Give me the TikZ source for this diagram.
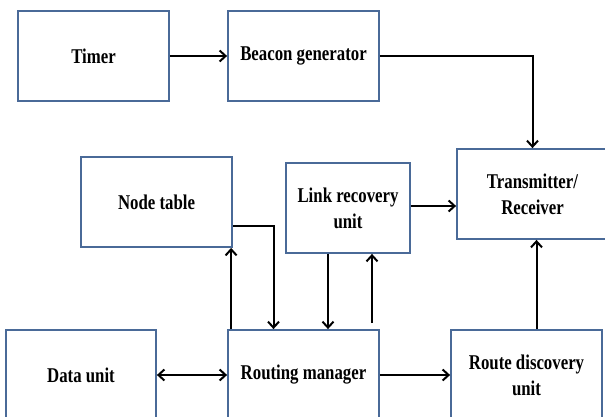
\documentclass[tikz,border=0pt]{standalone}
\usepackage{fontspec}
\setmainfont{Liberation Serif}[FakeStretch=0.8]
\usetikzlibrary{arrows.meta}
\definecolor{boxblue}{HTML}{4A6A98}
\tikzset{
	unit/.style={draw=boxblue,line width=1.8pt,fill=white,minimum width=151pt,minimum height=90pt,
		align=center,inner sep=2pt,font=\fontsize{21}{26}\selectfont\bfseries},
	flow/.style={line width=2pt,->},
	>={Straight Barb[length=6pt,width=11pt]},
}
\begin{document}
\begin{tikzpicture}[x=1pt,y=-1pt]
		\useasboundingbox (0,0) rectangle (605,416);
		\clip (0,0) rectangle (605,416);
		\node[unit] (timer) at (93.5,56) {Timer};
		\node[unit] (beacon) at (303.5,56) {Beacon generator};
		\node[unit] (ntable) at (156.5,202) {Node table};
		\node[unit,minimum width=124pt] (lru) at (348,208) {Link recovery\\unit};
		\node[unit] (trx) at (532.5,194) {Transmitter/\\Receiver};
		\node[unit,minimum width=150pt] (data) at (81,375) {Data unit};
		\node[unit] (rmgr) at (303.5,375) {Routing manager};
		\node[unit] (rdu) at (526.5,375) {Route discovery\\unit};
		\coordinate (lruin) at (372,323);
		\draw[flow] (timer.east) -- (beacon.west);
		\draw[flow] (beacon.east) -| (trx.north);
		\draw[flow] ([yshift=2pt]lru.east) -- ([yshift=2pt]lru.east -| trx.west);
		\draw[flow] ([yshift=-24pt]ntable.east) -| ([xshift=-30pt]rmgr.north);
		\draw[flow] ([xshift=4pt]rmgr.north west) -- ([xshift=4pt]rmgr.north west |- ntable.south);
		\draw[flow] ([xshift=-20pt]lru.south) -- ([xshift=-20pt]lru.south |- rmgr.north);
		\draw[flow] (lruin) -- (lruin |- lru.south);
		\draw[flow,<->] (data.east) -- (rmgr.west);
		\draw[flow] (rmgr.east) -- (rdu.west);
		\draw[flow] ([xshift=10pt]rdu.north) -- ([xshift=10pt]rdu.north |- trx.south);
	\end{tikzpicture}
\end{document}
